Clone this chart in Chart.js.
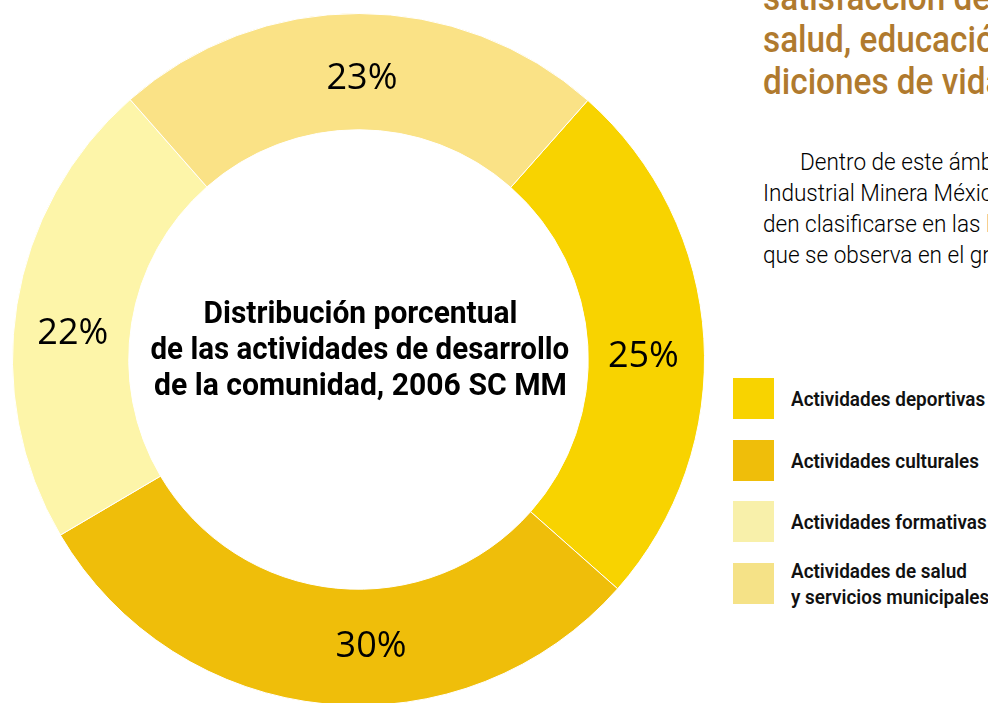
<!DOCTYPE html>
<html><head><meta charset="utf-8">
<script src="https://cdn.jsdelivr.net/npm/chart.js"></script>
<style>
html,body{margin:0;padding:0;width:988px;height:703px;overflow:hidden;background:#fff;}
#wrap{position:absolute;left:12px;top:13px;width:693px;height:693px;}
.ln{position:absolute;white-space:nowrap;transform-origin:0 0;}
#center .ln{font-family:Roboto,"DejaVu Sans",sans-serif;font-weight:700;font-size:31px;line-height:36px;color:#000;transform-origin:50% 0;}
.ttl{font-family:Roboto,sans-serif;font-weight:500;font-size:37px;line-height:42px;color:#B07A2E;}
.par{font-family:Roboto,sans-serif;font-weight:300;font-size:23px;line-height:29px;color:#000;}
.leg{position:absolute;left:733px;width:255px;height:41px;display:flex;align-items:center;}
.sq{width:41px;height:41px;flex:none;}
.lt{margin-left:17px;font-family:Roboto,sans-serif;font-weight:600;font-size:20px;line-height:26px;color:#111;white-space:nowrap;transform-origin:0 50%;}
</style></head>
<body>
<div id="wrap"><canvas id="c"></canvas></div>
<div id="center"></div>
<div id="side"></div>
<div id="legend"></div>
<script>
const categories = ['Actividades deportivas','Actividades culturales','Actividades formativas','Actividades de salud y servicios municipales'];
const legendLines = [['Actividades deportivas'],['Actividades culturales'],['Actividades formativas'],['Actividades de salud','y servicios municipales']];
const percentages = [25, 30, 22, 23];
const percentLabels = ['25%', '30%', '22%', '23%'];
const sliceColors = ['#F8D300', '#EFBE0A', '#FDF5A9', '#FAE286'];
const legendColors = ['#F8D300', '#EFBE0A', '#F8F0AA', '#F5E287'];
const centerTitle = ['Distribución porcentual', 'de las actividades de desarrollo', 'de la comunidad, 2006 SC MM'];
const sideTitle = ['satisfacción de las necesidades de', 'salud, educación, cultura y con-', 'diciones de vida de la comunidad'];
const sideText = ['Dentro de este ámbito, las actividades de', 'Industrial Minera México en las comunidades pue-', 'den clasificarse en las líneas de acción, tal como', 'que se observa en el gráfico siguiente.'];

const pctLabels = {
  id: 'pctLabels',
  afterDatasetsDraw(chart, args, opts) {
    const ctx = chart.ctx;
    const meta = chart.getDatasetMeta(0);
    meta.data.forEach((arc, i) => {
      const p = arc.getProps(['x','y','startAngle','endAngle','innerRadius','outerRadius'], true);
      const a = (p.startAngle + p.endAngle) / 2 + (opts.nudge[i] || 0) * Math.PI / 180;
      const r = (p.innerRadius + p.outerRadius) / 2 + (opts.radial[i] || 0);
      ctx.save();
      ctx.font = opts.font;
      ctx.fillStyle = '#000';
      ctx.textAlign = 'center';
      ctx.textBaseline = 'middle';
      ctx.fillText(percentLabels[i], p.x + Math.cos(a) * r, p.y + Math.sin(a) * r);
      ctx.restore();
    });
  }
};

new Chart(document.getElementById('c'), {
  type: 'doughnut',
  data: {
    labels: categories,
    datasets: [{ data: percentages, backgroundColor: sliceColors, borderColor: '#ffffff', borderWidth: 1, hoverOffset: 0 }]
  },
  options: {
    responsive: true, maintainAspectRatio: false, animation: false,
    rotation: 41.5, cutout: '66.4%',
    layout: { padding: 0 },
    plugins: {
      legend: { display: false }, tooltip: { enabled: false },
      pctLabels: { font: '36px "Open Sans", sans-serif', nudge: [3, -8, -4, 0.6], radial: [-3, 0, -1, -7] }
    }
  },
  plugins: [pctLabels]
});

// center title
const center = document.getElementById('center');
const cW = [314, 419, 413];
centerTitle.forEach((t, i) => {
  const d = document.createElement('div');
  d.className = 'ln'; d.textContent = t;
  center.appendChild(d);
  const w = d.offsetWidth;
  d.style.left = (360 - w / 2) + 'px';
  d.style.top = (295 + i * 36) + 'px';
  d.style.transform = 'scaleX(' + (cW[i] / w) + ')';
});

// side text
const side = document.getElementById('side');
sideTitle.forEach((t, i) => {
  const d = document.createElement('div');
  d.className = 'ln ttl'; d.textContent = t;
  d.style.left = '763px'; d.style.top = (-23 + i * 42) + 'px';
  d.style.transform = 'scaleX(0.9)';
  side.appendChild(d);
});
sideText.forEach((t, i) => {
  const d = document.createElement('div');
  d.className = 'ln par'; d.textContent = t;
  d.style.left = (i === 0 ? 800 : 763) + 'px'; d.style.top = (148 + i * 31) + 'px';
  d.style.transform = 'scaleX(0.98)';
  side.appendChild(d);
});

// legend
const legend = document.getElementById('legend');
const legTops = [378, 440, 501, 563];
let legScale = null;
legendLines.forEach((lines, i) => {
  const row = document.createElement('div');
  row.className = 'leg'; row.style.top = legTops[i] + 'px';
  const sq = document.createElement('div'); sq.className = 'sq'; sq.style.background = legendColors[i];
  const tx = document.createElement('div'); tx.className = 'lt';
  tx.innerHTML = lines.map(s => s.replace(/&/g,'&amp;').replace(/</g,'&lt;')).join('<br>');
  row.appendChild(sq); row.appendChild(tx); legend.appendChild(row);
  if (legScale === null) legScale = 194 / tx.offsetWidth;
  tx.style.transform = 'scaleX(' + legScale + ')';
});
</script>
</body></html>
